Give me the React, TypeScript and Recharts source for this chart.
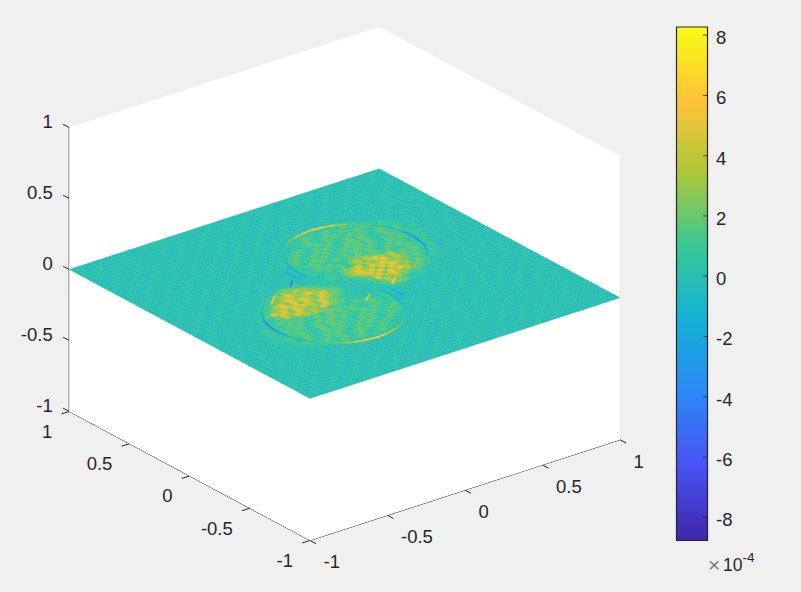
import { ScatterChart, Scatter, XAxis, YAxis, ReferenceLine, ComposedChart, Bar } from "recharts";

const WIDTH = 801;
const HEIGHT = 592;
const FONT = "'Liberation Sans', Arial, sans-serif";
const INK = "#262626";

// colorbar range and ticks, in units of 1e-4
const colorMin = -8.77;
const colorMax = 8.27;
const colorTicks = [-8, -6, -4, -2, 0, 2, 4, 6, 8];
const axisTicks = [-1, -0.5, 0, 0.5, 1];

// parula stops, low to high
const parula = [
  [0.2422, 0.1504, 0.6603],
  [0.281, 0.3228, 0.9579],
  [0.1786, 0.5289, 0.9682],
  [0.0689, 0.6948, 0.8394],
  [0.2161, 0.7843, 0.5923],
  [0.672, 0.7793, 0.2227],
  [0.997, 0.7659, 0.2199],
  [0.9769, 0.9839, 0.0805],
];

// one letter per surface cell
const levelKeys = "abcdefghij";
const levelValues = [-3, -1, -0.1, 0.2, 0.4, 1, 1.8, 2.3, 3.6, 5];

// rows run from v = 1 down to v = -1, columns from u = -1 to u = 1
const surfaceRows = [
  "ccdcccdcccdcccdccedcccdcccdcccdcccdccedcccdcccdcccdcccdcccdc",
  "cdcccdcccdcccdcecdcccdcccdcccdcccdcccdcccdcccecccdcccdcccdcc",
  "dcccdcccdcccdcccdcccdcccecccdcccdcccdcccdcccdcccdcccdcccdccc",
  "cccdcccdcccdcccdcccdcccdcccdcccdcccecccdcccdcccdcccdcccdcccd",
  "ccdcccdcccdcccdcccdcccdcccdcccdcccdcccdcccdcccdcccdcccdcccdc",
  "cdcccdcccdcccdcccdcccdcccdcccdcccdcccdcccdcccdcccdcccdcccdcc",
  "dcccdcccdcccdcccdcccdcccdcccdcccdcccdcccdcccdcccdcccdcccdccc",
  "cccdcccdcccdcccdcccdcccdcccdcccdcccdcccdcccdcccdcccdcccdcccd",
  "ccdcccdcccdcccdcccdcccdcccdcccdcccdcccdcccdcccdcccdcccdcccdc",
  "cdcccdcccdcccdcccdcccdcccdcccdcccdcccdcccdcccdcccdcccdcccdcc",
  "dcccdcccdcccdcccdcccdcccdcccdcccdcdcdcdcdcdcccdcccdcccdcccdc",
  "cccdcccdcccdcccdcccdcccdcccdcccdcdededcdcdcccdcccdcccdcccdcc",
  "ccdcccdcccdcccdcccdcccdcccdcccdcdcefefefefedcccdcccdcccdcccd",
  "cdcccdcccdcccdcccdcccdcccdcccdccdefgfefgfegfedcdcccdcccdcccd",
  "dcccdcccdcccdcccdcccdcccdcccdccdefgfefgfegfefgfedcccdcccdccc",
  "cccdcccdcccdcccdcccdcccdcccdcccdefgfegfgfefgfgfefedcdcccdccc",
  "ccdcccdcccdcccdcccdcccdcccdcdefgfefgfgfefgfgfefgfedcdcccdccc",
  "cdcccdcccdcccdcccdcccdcccdcdefgfefgfgfefgfgfefgfefedcccdcccd",
  "dcccdcccdcccdcccdcccdcccdcdefgfefgfgfefggfgfefgfgfedccdcccdc",
  "cccdcccdcccdcccdcccdcccdcdefgfefgfgfefgfgfgfefgfgfefdccdcccd",
  "ccdcccdcccdcccdcccdcccdcccbdfefgfgfefgfggfgfefgfefedcdcccdcc",
  "cdcccdcccdcccdcccdcccdcccbdfefgfgfefgfggfgfefgfgfefedcccdccc",
  "dcccdcccdcccdcccdcccdcccdbdfefgfefgfgfgfgfefgfgfefedcdcccdcc",
  "cccdcccdcccdcccdcccdcccdcbdfefgfgfefghgfgfegfgfefefdcccdcccd",
  "ccdcccdcccdcccdcccdcccdcccbefefgfgehihihgfgfefgfefedcdcccdcc",
  "cdcccdcccdcccdcccdcccdefecdcdefefgehihijihifgfgfefedcccdcccd",
  "dcccdcccdcccdcccdcefghgfecddeffeghijhihijhihgfgfefdbdcccdccc",
  "cccdcccdcccdcccdefghihihgfcdefefhijihjijihihfgfefebdcccdcccd",
  "ccdcccdcccdcccdefghijihihgfeddefhijijhjijihgfgfefedecdcccdcc",
  "cdcccdcccdcccdefghijihijihgfedcefhijijhjihifgfefedcdcccdcccd",
  "dcccdcccdcccdefgijhjijihijhgfedcefgijhjijigfgfeedcccdcccdccc",
  "cccdcccdcccdefghijijhjihjihgfecdefgjhijihifgfedccdcdcccdcccd",
  "ccdcccdcccdefgjijhjijihjihgfedcdcefhihihgfgfedcdcccdcdcccdcc",
  "cdcccdcccdcdefhjihjihihjhgfedcdcdefgihgfefedcccdcccdcccdcccd",
  "dcccdcccdccdefgihjihihjihgfedcccdcefghgfedccdcccdcccdcdcccdc",
  "cccdcccdccdefgfgfhihihgfgfefedcdcccdedcdcdcccdcccdcccdcccdcc",
  "dcccdcccdfefefgfgefgfghgfefgfgfefdbcdcccdcccdcccdcccdcccdccc",
  "ccdcccdcdefefgfgfefgfgfgfgfefgfefdbdcccdcccdcccdcccdcccdcccd",
  "cccdcccdefefgfgfefgfggfgfgfefgfefdbcccdcccdcccdcccdcccdcccdc",
  "ccdcccdcdefefgfefgfggfgfefgfgfefdbcccdcccdcccdcccdcccdcccdcc",
  "dcccdccdfefgfgfefgfgfgfefgfgfefgfedcdcccdcccdcccdcccdcccdccc",
  "cdcccdccdefgfgfefgfggfefgfgfefgfedcdcccdcccdcccdcccdcccdcccd",
  "dcccdcccdefefgfefgfgfefgfgfefgfedcdcccdcccdcccdcccdcccdcccdc",
  "cccdcccdcdefgfefgfgfefgfgfefgfedcdcccdcccdcccdcccdcccdcccdcc",
  "dcccdcccdcdefefgfgfefgfgefgfedccdcccdcccdcccdcccdcccdcccdccc",
  "cccdcccdcccdefgfefgefgfefgfedccdcccdcccdcccdcccdcccdcccdcccd",
  "dcccdcccdcccdcdefgefgfefgfedccdcccdcccdcccdcccdcccdcccdcccdc",
  "dcccdcccdcccdcccdefefefefecdcdcccdcccdcccdcccdcccdcccdcccdcc",
  "cccdcccdcccdcccdcdcdededcdcccdcccdcccdcccdcccdcccdcccdcccdcc",
  "ccdcccdcccdcccdcccdcdcdcdcdcccdcccdcccdcccdcccdcccdcccdcccdc",
  "cdcccdcccdcccdcccdcccdcccdcccdcccdcccdcccdcccdcccdcccdcccdcc",
  "dcccdcccdcccdcccdcccdcccdcccdcccdcccdcccdcccdcccdcccdcccdccc",
  "cccdcccdcccdcccdcccdcccdcccdcccdcccdcccdcccdcccdcccdcccdcccd",
  "ccdcccdcccdcccdcccdcccdcccdcccdcccdcccdcccdcccdcccdcccdcccdc",
  "cdcccdcccdcccdcccdcccdcccdcccdcccdcccdcccdcccdcccdcccdcccdcc",
  "dcccdcccdcccdcccdcccdcccdcccdcccdcccdcccdcccdcccdcccdcccdccc",
  "cccdcccdcccdcccdcccdcccdcccdcccdcccdcccdcccdcccdcccdcccdcccd",
  "ccdcccdcccdcccdcccdcccdcccdcccdcccdcccdcccdcccdcccdcccdcccdc",
  "cdcccdcccdcccdcccdcccdcccdcccecccdcccdcccdcccdcccdcccdcccdcc",
  "dcccdcccdcccecccdcccdcccdcccdcccdcccdcccdcccecccdcccdcccdccc",
];

// bright rims of the two circles: u, v, value
const upperRim = [
  [0.546, 0.016, 0.5], [0.583, 0.068, -1.5], [0.61, 0.126, -3], [0.626, 0.188, -4],
  [0.632, 0.252, -3], [0.626, 0.316, -1.5], [0.61, 0.378, -0.5], [0.583, 0.436, 0],
  [0.546, 0.488, 0.8], [0.501, 0.533, 1.5], [0.449, 0.57, 2.5], [0.391, 0.597, 4.5],
  [0.329, 0.613, 6], [0.265, 0.619, 6.5], [0.201, 0.613, 5.5], [0.139, 0.597, 3.5],
  [0.081, 0.57, 2], [0.029, 0.533, 1.2], [-0.016, 0.488, 0.5], [-0.053, 0.436, 0],
  [-0.08, 0.378, -0.8], [-0.096, 0.316, -1.5], [-0.102, 0.252, -0.5], [-0.096, 0.188, -1.5],
];
const lowerRim = [
  [-0.546, -0.016, 0.5], [-0.583, -0.068, -1.5], [-0.61, -0.126, -3], [-0.626, -0.188, -4],
  [-0.632, -0.252, -3], [-0.626, -0.316, -1.5], [-0.61, -0.378, -0.5], [-0.583, -0.436, 0],
  [-0.546, -0.488, 0.8], [-0.501, -0.533, 1.5], [-0.449, -0.57, 2.5], [-0.391, -0.597, 4.5],
  [-0.329, -0.613, 6], [-0.265, -0.619, 6.5], [-0.201, -0.613, 5.5], [-0.139, -0.597, 3.5],
  [-0.081, -0.57, 2], [-0.029, -0.533, 1.2], [0.016, -0.488, 0.5], [0.053, -0.436, 0],
  [0.08, -0.378, -0.8], [0.096, -0.316, -1.5], [0.102, -0.252, -0.5], [0.096, -0.188, -1.5],
];
const neckMarks = [
  [[-0.24, 0.14, -5], [-0.19, 0.19, -5]],
  [[-0.44, 0.04, 6], [-0.37, 0.1, 6]],
  [[-0.36, 0.12, -1], [-0.28, 0.17, 4]],
  [[0.19, -0.15, 6], [0.25, -0.1, 6]],
  [[-0.04, -0.23, 6], [0.02, -0.18, 4]],
  [[0.4, -0.06, 4], [0.46, -0.01, 3]],
];

const origin = { x: 344.6, y: 283.6 };
const uDir = { x: 155, y: -50.35 };
const vDir = { x: -120.4, y: -64.5 };
const wDir = -142;

const project = (u: number, v: number, w = 0) => ({
  x: origin.x + uDir.x * u + vDir.x * v,
  y: origin.y + uDir.y * u + vDir.y * v + wDir * w,
});

const parulaColor = (value: number) => {
  const t = Math.min(1, Math.max(0, (value - colorMin) / (colorMax - colorMin))) * (parula.length - 1);
  const i = Math.min(parula.length - 2, Math.floor(t));
  const c = parula[i].map((a, k) => Math.round((a + (parula[i + 1][k] - a) * (t - i)) * 255));
  return `rgb(${c[0]},${c[1]},${c[2]})`;
};

const wallCorners = [
  project(-1, 1, 1),
  project(1, 1, 1),
  project(1, -1, 1),
  project(1, -1, -1),
  project(-1, -1, -1),
  project(-1, 1, -1),
];
const wallData = [{ x: wallCorners[0].x, y: wallCorners[0].y, poly: wallCorners }];

const cellCount = surfaceRows.length;
const cellData = surfaceRows.flatMap((row, j) =>
  row.split("").map((ch, i) => {
    const u = -1 + ((i + 0.5) * 2) / cellCount;
    const v = 1 - ((j + 0.5) * 2) / cellCount;
    return { ...project(u, v), fill: parulaColor(levelValues[levelKeys.indexOf(ch)]) };
  })
);

const strokesFrom = (line: number[][]) =>
  line.slice(0, -1).map((p, i) => {
    const a = project(p[0], p[1]);
    const b = project(line[i + 1][0], line[i + 1][1]);
    return { ...a, nx: b.x - a.x, ny: b.y - a.y, fill: parulaColor((p[2] + line[i + 1][2]) / 2) };
  });
const rimData = [upperRim, lowerRim, ...neckMarks].flatMap(strokesFrom);

const fmt = (v: number) => String(v);
const zLabels = axisTicks.map((t) => {
  const p = project(-1, 1, t);
  return { x: p.x - 16.5, y: p.y - 6, text: fmt(t), anchor: "end" };
});
const vLabels = axisTicks.map((t) => {
  const p = project(-1, t, -1);
  return { x: p.x - 17, y: p.y + 20, text: fmt(t), anchor: "end" };
});
const uLabels = axisTicks.map((t) => {
  const p = project(t, -1, -1);
  return { x: p.x + 13.5, y: p.y + 21.5, text: fmt(t), anchor: "start" };
});
const tickLabels = [...zLabels, ...vLabels, ...uLabels];

const axisLines = [
  [project(-1, 1, 1), project(-1, 1, -1)],
  [project(-1, 1, -1), project(-1, -1, -1)],
  [project(-1, -1, -1), project(1, -1, -1)],
];
// ticks are 5% of a unit long, along the other floor direction
const tickMarks = axisTicks.flatMap((t) => [
  [project(-1, 1, t), project(-1, 1.05, t)],
  [project(-1, t, -1), project(-1.05, t, -1)],
  [project(t, -1, -1), project(t, -1.05, -1)],
]);

const PolyShape = (props: any) => {
  const { cx, cy, payload } = props;
  const pts = payload.poly.map((p: any) => `${p.x - payload.x + cx},${p.y - payload.y + cy}`).join(" ");
  return <polygon points={pts} fill="#ffffff" />;
};

const CellShape = (props: any) => {
  const { cx, cy, payload } = props;
  const h = 1 / cellCount;
  const a = { x: uDir.x * h, y: uDir.y * h };
  const b = { x: vDir.x * h, y: vDir.y * h };
  const pts = [
    [cx - a.x - b.x, cy - a.y - b.y],
    [cx + a.x - b.x, cy + a.y - b.y],
    [cx + a.x + b.x, cy + a.y + b.y],
    [cx - a.x + b.x, cy - a.y + b.y],
  ]
    .map((p) => p.join(","))
    .join(" ");
  return <polygon points={pts} fill={payload.fill} stroke={payload.fill} strokeWidth={0.4} />;
};

const RimShape = (props: any) => {
  const { cx, cy, payload } = props;
  return (
    <line
      x1={cx}
      y1={cy}
      x2={cx + payload.nx}
      y2={cy + payload.ny}
      stroke={payload.fill}
      strokeWidth={1.7}
      strokeLinecap="round"
    />
  );
};

const LabelShape = (props: any) => {
  const { cx, cy, payload } = props;
  return (
    <text x={cx} y={cy} textAnchor={payload.anchor} dominantBaseline="central" fontFamily={FONT} fontSize={18.5} fill={INK}>
      {payload.text}
    </text>
  );
};

const exponentData = [{ x: 709, y: 571 }];
const ExponentShape = (props: any) => {
  const { cx, cy } = props;
  return (
    <text y={cy} fontFamily={FONT} fill={INK}>
      <tspan x={cx - 1} y={cy + 1} fontSize={21} fill="#7a7a7a">×</tspan>
      <tspan x={cx + 14} y={cy} fontSize={17.5}>10</tspan>
      <tspan x={cx + 33.5} y={cy - 9} fontSize={13.5}>-4</tspan>
    </text>
  );
};

const colorbarData = [{ name: "c", range: [colorMin, colorMax] }];

const ColorTick = (props: any) => {
  const { y, payload } = props;
  return (
    <g>
      <line x1={63} x2={67.5} y1={y} y2={y} stroke={INK} strokeWidth={0.8} />
      <text x={76} y={y + 2.5} dominantBaseline="central" fontFamily={FONT} fontSize={18.5} fill={INK}>
        {payload.value}
      </text>
    </g>
  );
};

function Surface() {
  return (
    <ScatterChart width={WIDTH} height={HEIGHT} margin={{ top: 0, right: 0, bottom: 0, left: 0 }}>
      <XAxis type="number" dataKey="x" domain={[0, WIDTH]} hide />
      <YAxis type="number" dataKey="y" domain={[0, HEIGHT]} reversed hide />
      <Scatter data={wallData} shape={PolyShape} isAnimationActive={false} />
      <Scatter data={cellData} shape={CellShape} isAnimationActive={false} />
      <Scatter data={rimData} shape={RimShape} isAnimationActive={false} />
      {[...axisLines, ...tickMarks].map((s, i) => (
        <ReferenceLine key={i} segment={s} stroke={INK} strokeWidth={1} ifOverflow="visible" />
      ))}
      <Scatter data={tickLabels} shape={LabelShape} isAnimationActive={false} />
      <Scatter data={exponentData} shape={ExponentShape} isAnimationActive={false} />
    </ScatterChart>
  );
}

function Colorbar() {
  return (
    <ComposedChart
      width={161}
      height={HEIGHT}
      data={colorbarData}
      margin={{ top: 27, right: 0, bottom: 51.5, left: 36.5 }}
      barCategoryGap={0}
    >
      <defs>
        <linearGradient id="parulaFill" x1="0" y1="1" x2="0" y2="0">
          {parula.map((c, i) => (
            <stop
              key={i}
              offset={i / (parula.length - 1)}
              stopColor={`rgb(${c.map((a) => Math.round(a * 255)).join(",")})`}
            />
          ))}
        </linearGradient>
      </defs>
      <XAxis dataKey="name" hide />
      <YAxis
        orientation="right"
        width={93.5}
        domain={[colorMin, colorMax]}
        ticks={colorTicks}
        axisLine={false}
        tickLine={false}
        interval={0}
        tick={<ColorTick />}
      />
      <Bar dataKey="range" fill="url(#parulaFill)" stroke={INK} strokeWidth={1.2} isAnimationActive={false} />
    </ComposedChart>
  );
}

export default function App() {
  return (
    <div style={{ position: "absolute", left: 0, top: 0, width: WIDTH, height: HEIGHT, background: "#f0f0f0", overflow: "hidden" }}>
      <div style={{ position: "absolute", left: 0, top: 0 }}>
        <Surface />
      </div>
      <div style={{ position: "absolute", left: 640, top: 0 }}>
        <Colorbar />
      </div>
    </div>
  );
}
